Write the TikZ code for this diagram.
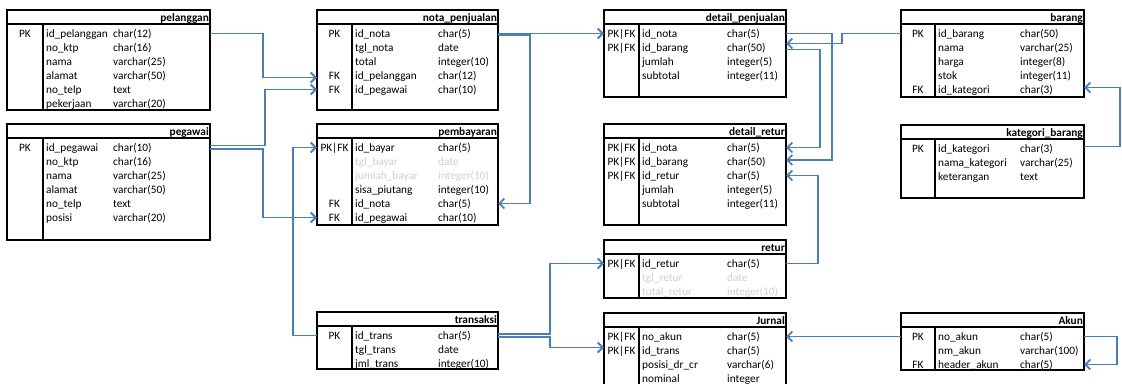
\documentclass[tikz,border=0pt]{standalone}
\usepackage{fontspec}
\setmainfont{Carlito}
\usepackage{tikz}
\usetikzlibrary{arrows.meta,calc}

\definecolor{linkblue}{HTML}{4A7EBB}
\definecolor{fadegray}{HTML}{CFCFCF}
\newcommand{\gr}[1]{\textcolor{fadegray}{#1}}

\tikzset{
  tblline/.style={draw=black, line width=1.2pt},
  tblhead/.style={draw=black, line width=1.6pt},
  tbltitle/.style={anchor=base east, inner sep=0pt, font=\fontsize{11.3}{13}\selectfont\bfseries},
  keytxt/.style={anchor=base, inner sep=0pt, font=\fontsize{11.3}{13}\selectfont},
  fldtxt/.style={anchor=base west, inner sep=0pt, font=\fontsize{11.3}{13}\selectfont},
  rel/.style={draw=linkblue, line width=1.9pt, -{Straight Barb[length=5pt,width=10pt]}}
}

% #1 name, #2 left, #3 right, #4 top, #5 bottom, #6 key column, #7 type column, #8 title, #9 rows
\newcommand{\erdtable}[9]{%
  \draw[tblline] (#2,#4) rectangle (#3,#5);
  \draw[tblhead] (#2,#4+14) -- (#3,#4+14);
  \draw[tblline] (#6,#4+14) -- (#6,#5);
  \node[tbltitle] (#1) at (#3-1,#4+11) {#8};
  \foreach \k/\f/\t [count=\i] in {#9} {
    \coordinate (#1-\i-w) at (#2,#4+9.5+14*\i);
    \coordinate (#1-\i-e) at (#3,#4+9.5+14*\i);
    \node[keytxt] (#1-\i-k) at ({(#2+#6)/2},#4+13.5+14*\i) {\k};
    \node[fldtxt] (#1-\i-f) at (#6+3,#4+13.5+14*\i) {\f};
    \node[fldtxt] (#1-\i-t) at (#7,#4+13.5+14*\i) {\t};
  }
}

\begin{document}
\begin{tikzpicture}[x=1pt, y=-1pt]
  \useasboundingbox (0,0) rectangle (1122,383);

  % left column
  \erdtable{pel}{7}{210}{10}{110}{43}{113}{pelanggan}{%
    PK/id\_pelanggan/char(12), {}/no\_ktp/char(16), {}/nama/varchar(25),
    {}/alamat/varchar(50), {}/no\_telp/text, {}/pekerjaan/varchar(20)}
  \erdtable{peg}{7}{210}{124}{240}{43}{113}{pegawai}{%
    PK/id\_pegawai/char(10), {}/no\_ktp/char(16), {}/nama/varchar(25),
    {}/alamat/varchar(50), {}/no\_telp/text, {}/posisi/varchar(20)}

  % second column
  \erdtable{nota}{317}{498}{10}{110}{352}{438}{nota\_penjualan}{%
    PK/id\_nota/char(5), {}/tgl\_nota/date, {}/total/integer(10),
    FK/id\_pelanggan/char(12), FK/id\_pegawai/char(10)}
  \erdtable{pemb}{317}{498}{124}{225}{352}{438}{pembayaran}{%
    PK|FK/id\_bayar/char(5), {}/\gr{tgl\_bayar}/\gr{date},
    {}/\gr{jumlah\_bayar}/\gr{integer(10)}, {}/sisa\_piutang/integer(10),
    FK/id\_nota/char(5), FK/id\_pegawai/char(10)}
  \erdtable{tr}{317}{498}{312}{369}{352}{438}{transaksi}{%
    PK/id\_trans/char(5), {}/tgl\_trans/date, {}/jml\_trans/integer(10)}

  % third column
  \erdtable{det}{604}{786}{10}{97}{639}{727}{detail\_penjualan}{%
    PK|FK/id\_nota/char(5), PK|FK/id\_barang/char(50),
    {}/jumlah/integer(5), {}/subtotal/integer(11)}
  \erdtable{dret}{604}{786}{124}{225}{639}{727}{detail\_retur}{%
    PK|FK/id\_nota/char(5), PK|FK/id\_barang/char(50), PK|FK/id\_retur/char(5),
    {}/jumlah/integer(5), {}/subtotal/integer(11)}
  \erdtable{ret}{604}{786}{240}{298}{639}{727}{retur}{%
    PK|FK/id\_retur/char(5), {}/\gr{tgl\_retur}/\gr{date},
    {}/\gr{total\_retur}/\gr{integer(10)}}
  \erdtable{jur}{604}{786}{313}{392}{639}{727}{Jurnal}{%
    PK|FK/no\_akun/char(5), PK|FK/id\_trans/char(5),
    {}/posisi\_dr\_cr/varchar(6), {}/nominal/integer}

  % right column
  \erdtable{bar}{901}{1084}{10}{97}{935}{1020}{barang}{%
    PK/id\_barang/char(50), {}/nama/varchar(25), {}/harga/integer(8),
    {}/stok/integer(11), FK/id\_kategori/char(3)}
  \erdtable{kat}{901}{1084}{125}{198}{935}{1020}{kategori\_barang}{%
    PK/id\_kategori/char(3), {}/nama\_kategori/varchar(25), {}/keterangan/text}
  \erdtable{akun}{901}{1084}{313}{370}{935}{1020}{Akun}{%
    PK/no\_akun/char(5), {}/nm\_akun/varchar(100), FK/header\_akun/char(5)}

  % relations
  \draw[rel] (pel-1-e) -- ++(53,0) |- ([yshift=-2pt]nota-4-w);
  \draw[rel] ([yshift=2pt]peg-1-e) -- ++(55,0) |- (nota-5-w);
  \draw[rel] ([yshift=-1.5pt]peg-1-e) -- ++(53,0) |- (pemb-6-w);
  \draw[rel] (nota-1-e) -- (det-1-w);
  \draw[rel] ([yshift=-1.5pt]nota-1-e) -- ++(32,0) |- (pemb-5-e);
  \draw[rel] (tr-1-w) -- ++(-24,0) |- (pemb-1-w);
  \draw[rel] ([yshift=1.5pt]tr-1-e) -- ++(52,0) |- (ret-1-w);
  \draw[rel] ([yshift=-1.5pt]tr-1-e) -- ++(52,0) |- ([yshift=3pt]jur-2-w);
  \draw[rel] (bar-1-w) -- ++(-59,0) |- ([yshift=4pt]det-2-e);
  \draw[rel] (det-1-e) -- ++(46,0) |- ([yshift=1.5pt]dret-2-e);
  \draw[rel] ([yshift=-2pt]det-2-e) -- ++(34,0) |- (dret-1-e);
  \draw[rel] (ret-1-e) -- ++(32,0) |- (dret-3-e);
  \draw[rel] ([yshift=2pt]kat-1-e) -- ++(36,0) |- ([yshift=2pt]bar-5-e);
  \draw[rel] (akun-1-e) -- ++(33,0) |- (akun-3-e);
  \draw[rel] (akun-1-w) -- (jur-1-e);
\end{tikzpicture}
\end{document}
